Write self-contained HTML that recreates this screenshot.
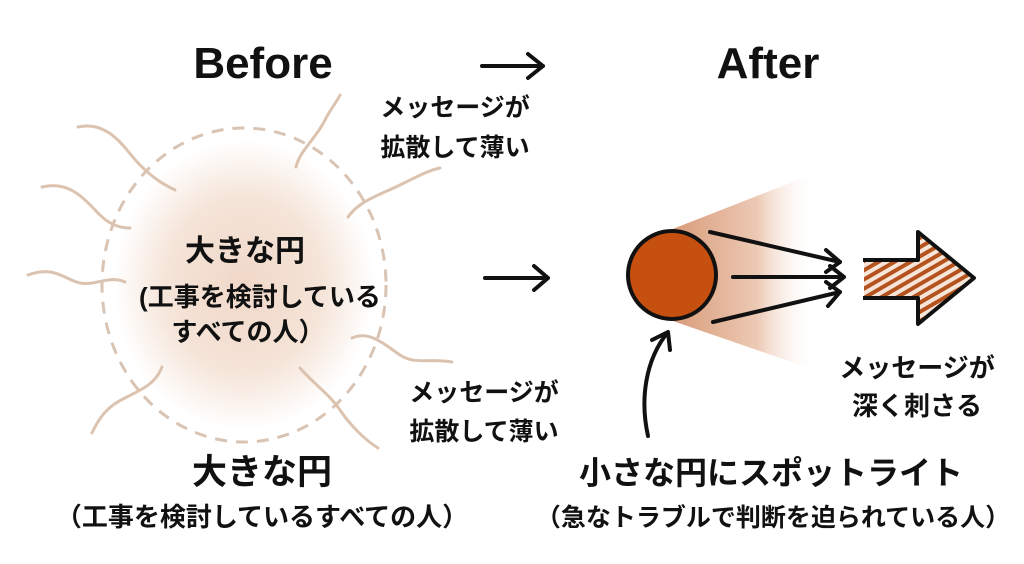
<!DOCTYPE html>
<html><head><meta charset="utf-8"><style>
body{margin:0;background:#fff;}
svg text{font-family:"Liberation Sans","Noto Sans CJK JP",sans-serif;font-weight:bold;fill:#111;text-anchor:middle;}
</style></head><body>
<svg width="1024" height="559" viewBox="0 0 1024 559" xmlns="http://www.w3.org/2000/svg">
<defs>
<radialGradient id="g" cx="50%" cy="50%" r="50%">
<stop offset="0" stop-color="#f0d8c8"/><stop offset="0.6" stop-color="#f5e4d8"/><stop offset="1" stop-color="#fff"/>
</radialGradient>
<linearGradient id="cone" x1="0" x2="1" y1="0" y2="0">
<stop offset="0" stop-color="#d89a78"/><stop offset="0.6" stop-color="#ecc9b4"/><stop offset="1" stop-color="#fff" stop-opacity="0"/>
</linearGradient>
<pattern id="h" width="8" height="8" patternUnits="userSpaceOnUse" patternTransform="rotate(60)">
<rect width="8" height="8" fill="#f6e6da"/><rect width="4" height="8" fill="#b5531f"/>
</pattern>
</defs>
<text x="263" y="78" font-size="44">Before</text>
<text x="768" y="78" font-size="44">After</text>
<g stroke="#111" stroke-width="4" fill="none" stroke-linecap="round" stroke-linejoin="round">
<path d="M482 66 H543 M528 54 L543 66 L528 78"/>
<path d="M485 278 H548 M534 266 L548 278 L534 290"/>
</g>
<ellipse cx="244" cy="285" rx="130" ry="145" fill="url(#g)"/>
<ellipse cx="244" cy="285" rx="142" ry="157" fill="none" stroke="#d9c4b4" stroke-width="3" stroke-dasharray="12 9"/>
<g stroke="#dcc3b0" stroke-width="3" fill="none" stroke-linecap="round">
<path d="M78 127 C110 120 125 150 140 165 C155 180 165 185 175 190"/>
<path d="M42 187 C70 180 85 200 100 215 C110 225 120 228 130 228"/>
<path d="M28 275 C55 265 65 280 80 283 C95 286 110 275 125 282"/>
<path d="M296 167 C300 150 315 140 325 120 C330 110 338 100 340 95"/>
<path d="M348 217 C360 200 380 195 400 185 C420 175 430 170 440 168"/>
<path d="M352 338 C370 330 385 345 400 355 C415 365 430 358 452 362"/>
<path d="M300 368 C315 385 330 395 340 410 C350 425 365 440 378 448"/>
<path d="M162 367 C155 385 140 390 125 398 C110 405 100 415 92 433"/>
</g>
<text x="245" y="261" font-size="30">大きな円</text>
<text x="260" y="306" font-size="26">(工事を検討している</text>
<text x="248" y="341" font-size="26">すべての人）</text>
<text x="455" y="116" font-size="25">メッセージが</text>
<text x="455" y="156" font-size="25">拡散して薄い</text>
<text x="484" y="401" font-size="25">メッセージが</text>
<text x="484" y="440" font-size="25">拡散して薄い</text>
<text x="262" y="484" font-size="35">大きな円</text>
<text x="262" y="526" font-size="26">（工事を検討しているすべての人）</text>
<text x="771" y="484" font-size="32">小さな円にスポットライト</text>
<text x="773" y="526" font-size="25">（急なトラブルで判断を迫られている人）</text>
<polygon points="670,230 808,176 815,370 670,320" fill="url(#cone)"/>
<circle cx="672" cy="275" r="44" fill="#c5500f" stroke="#111" stroke-width="4"/>
<g stroke="#111" stroke-width="4" fill="none" stroke-linecap="round" stroke-linejoin="round">
<path d="M710 232 L840 262 M826 250 L840 262 L826 272"/>
<path d="M733 277 L844 277 M830 266 L844 277 L830 288"/>
<path d="M713 322 L840 292 M826 282 L840 292 L828 306"/>
<path d="M648 436 C640 400 645 360 668 332 M652 340 L668 332 L670 350"/>
</g>
<path d="M863 260 H918 V232 L974 278 L918 324 V298 H863" fill="url(#h)" stroke="#111" stroke-width="4" stroke-linejoin="round"/>
<rect x="860" y="262" width="4" height="34" fill="#fff"/>
<text x="917" y="377" font-size="26">メッセージが</text>
<text x="917" y="415" font-size="26">深く刺さる</text>
</svg>
</body></html>
